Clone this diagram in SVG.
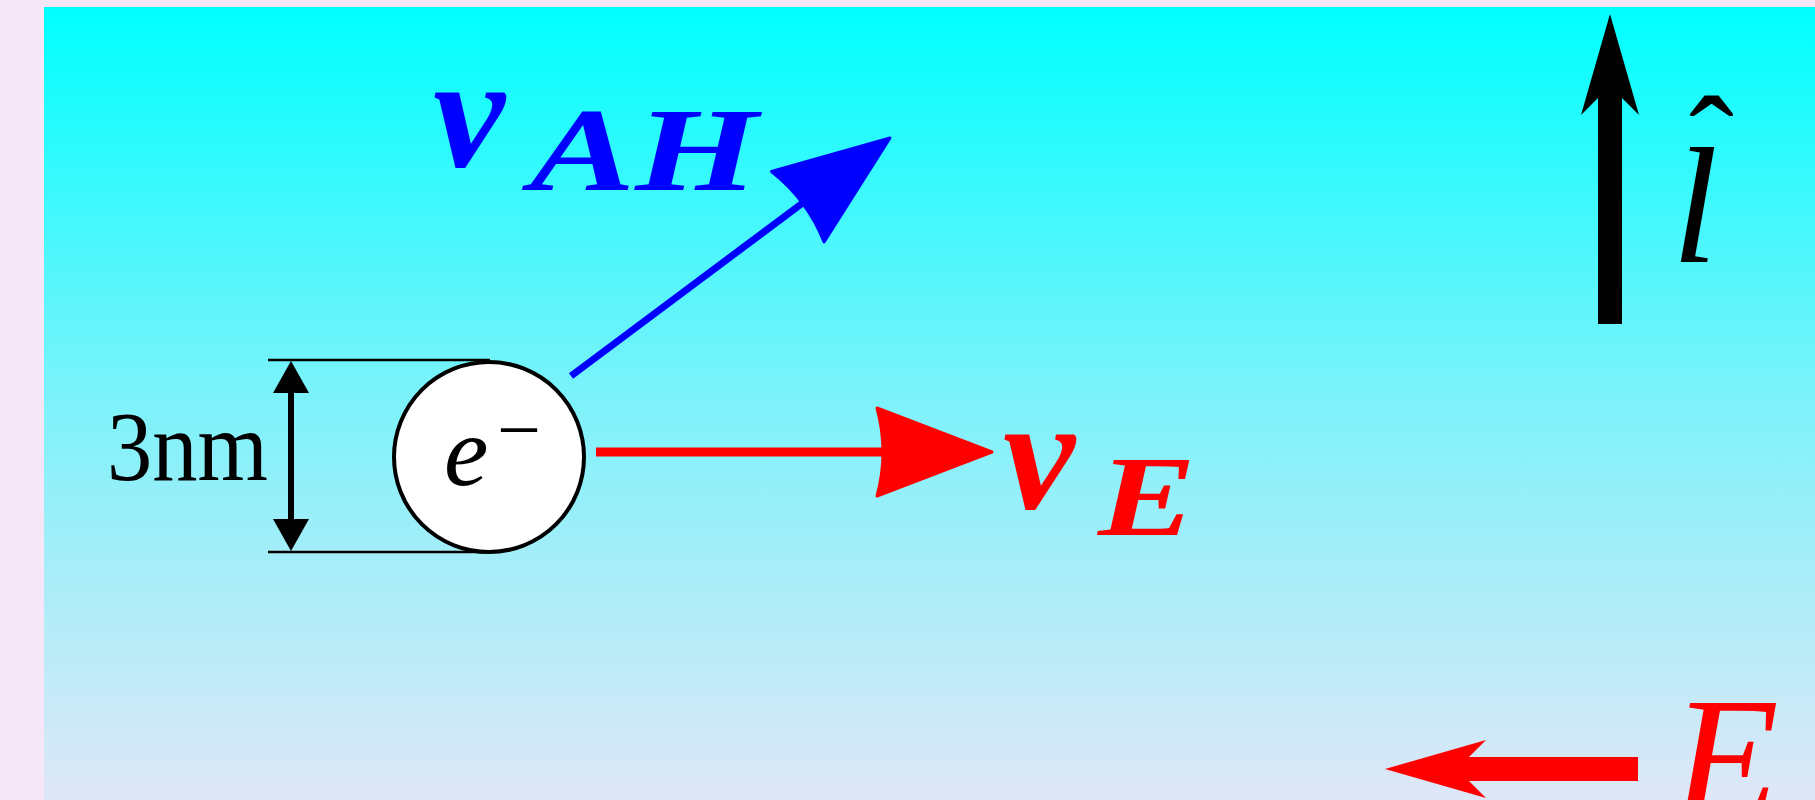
<svg xmlns="http://www.w3.org/2000/svg" xmlns:xlink="http://www.w3.org/1999/xlink" width="1815" height="800" viewBox="0 0 1815 800">
<style>
.serif{font-family:"Liberation Serif","DejaVu Serif",serif}
.it{font-style:italic}
.bi{font-style:italic;font-weight:bold}
.dim{stroke:#000;stroke-width:2.5}
</style>
<defs>
<linearGradient id="bg" x1="0" y1="0" x2="0" y2="1">
<stop offset="0" stop-color="#00ffff"/>
<stop offset="0.5" stop-color="#7ef2fa"/>
<stop offset="1" stop-color="#dfe7f7"/>
</linearGradient>
<path id="stealth" d="M0,0 L-115,-44 Q-103,0 -115,44 Z" stroke-width="3" stroke-linejoin="round"/>
<path id="notch" d="M0,0 L-101,-29 L-84,-12 L-84,12 L-101,29 Z"/>
<path id="dimhead" d="M0,0 L-32,-18 L-32,18 Z"/>
</defs>
<rect width="1815" height="800" fill="#f5e6f8"/>
<rect x="44" y="7" width="1771" height="793" fill="url(#bg)"/>

<g id="connectors">
<g id="dimension">
<line class="dim" x1="268" y1="360" x2="490" y2="360"/>
<line class="dim" x1="268" y1="552" x2="490" y2="552"/>
<line x1="291" y1="385" x2="291" y2="528" stroke="#000" stroke-width="6"/>
<use href="#dimhead" transform="translate(291,361) rotate(-90)" fill="#000"/>
<use href="#dimhead" transform="translate(291,551) rotate(90)" fill="#000"/>
</g>
<g id="v-AH-arrow">
<line x1="571" y1="376" x2="812" y2="196" stroke="#0000ff" stroke-width="7"/>
<use href="#stealth" transform="translate(890,138) rotate(-36.7)" fill="#0000ff" stroke="#0000ff"/>
</g>
<g id="v-E-arrow">
<line x1="596" y1="452" x2="895" y2="452" stroke="#ff0000" stroke-width="9"/>
<use href="#stealth" transform="translate(992,452)" fill="#ff0000" stroke="#ff0000"/>
</g>
<g id="l-arrow">
<line x1="1610" y1="98" x2="1610" y2="324" stroke="#000" stroke-width="24"/>
<use href="#notch" transform="translate(1610,14) rotate(-90)" fill="#000"/>
</g>
<g id="E-arrow">
<line x1="1469" y1="769" x2="1638" y2="769" stroke="#ff0000" stroke-width="24"/>
<use href="#notch" transform="translate(1385,769) rotate(180)" fill="#ff0000"/>
</g>
</g>

<g id="electron">
<circle cx="489" cy="457" r="95" fill="#fff" stroke="#000" stroke-width="4"/>
<text class="serif it" x="444" y="485" font-size="100">e</text>
<text class="serif" x="519" y="456" font-size="78" text-anchor="middle">−</text>
</g>

<g id="label-3nm">
<text class="serif" x="107" y="480" font-size="100" textLength="161" lengthAdjust="spacingAndGlyphs">3nm</text>
</g>

<g id="label-vAH" fill="#0000ff">
<text class="serif bi" x="433" y="166" font-size="162">v</text>
<text class="serif bi" x="530" y="190" font-size="118" textLength="228" lengthAdjust="spacingAndGlyphs">AH</text>
</g>

<g id="label-vE" fill="#ff0000">
<text class="serif bi" x="1003" y="508" font-size="162">v</text>
<text class="serif bi" x="1098" y="535" font-size="115" textLength="98" lengthAdjust="spacingAndGlyphs">E</text>
</g>

<g id="label-l">
<text class="serif it" x="1672" y="262" font-size="165">l<tspan class="serif" font-style="normal" x="1689" y="190" font-size="135">ˆ</tspan></text>
</g>

<g id="label-E" fill="#ff0000">
<text class="serif it" x="1672" y="818" font-size="175">E</text>
</g>
</svg>
